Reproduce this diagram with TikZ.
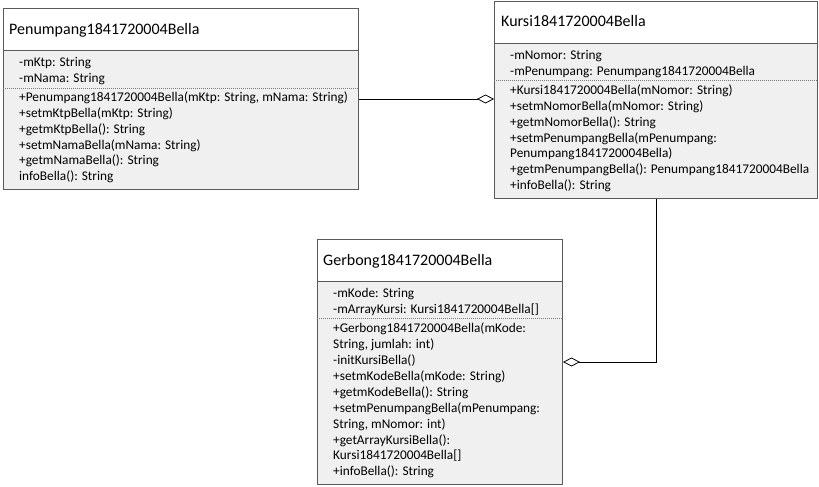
\documentclass[tikz,border=0pt]{standalone}
\usepackage{fontspec}
\setmainfont{Carlito}
\usetikzlibrary{arrows.meta}
\definecolor{boxline}{HTML}{5A5A5A}
\definecolor{boxfill}{HTML}{F0F0F0}
\tikzset{
  classbox/.style={draw=boxline, line width=1pt, fill=boxfill, rectangle, inner sep=0pt, anchor=north west},
  headbox/.style={draw=boxline, line width=1pt, fill=white, rectangle, inner sep=0pt, anchor=north west},
  title/.style={anchor=base west, inner sep=0pt, font=\fontsize{16}{18}\selectfont},
  member/.style={anchor=base west, inner sep=0pt, font=\fontsize{13.3}{15}\selectfont},
  sepline/.style={draw=boxline!80, line width=0.6pt, dash pattern=on 1pt off 1pt},
  agg/.style={draw=black, line width=0.8pt, -{Diamond[open, length=17pt, width=9pt, line width=0.8pt]}}
}
\begin{document}
\begin{tikzpicture}[x=1pt, y=-1pt]
\useasboundingbox (0,0) rectangle (819,487);

% ---- Penumpang1841720004Bella ----
\node[classbox, minimum width=355pt, minimum height=181pt] (pB) at (3,8) {};
\node[headbox, minimum width=355pt, minimum height=42pt] (pH) at (3,8) {};
\node[title] (pT) at (9,34.2) {Penumpang1841720004Bella};
\draw[sepline] (pB.west |- 0,88) -- (pB.east |- 0,88);
\foreach \txt [count=\i from 0] in {{-mKtp: String}, {-mNama: String}}
  \node[member] (pa\i) at (19, 66.7+15.8*\i) {\txt};
\foreach \txt [count=\i from 0] in {
  {+Penumpang1841720004Bella(mKtp: String, mNama: String)},
  {+setmKtpBella(mKtp: String)},
  {+getmKtpBella(): String},
  {+setmNamaBella(mNama: String)},
  {+getmNamaBella(): String},
  {infoBella(): String}}
  \node[member] (pm\i) at (19, 101.7+15.8*\i) {\txt};

% ---- Kursi1841720004Bella ----
\node[classbox, minimum width=323pt, minimum height=197pt] (kB) at (494,1) {};
\node[headbox, minimum width=323pt, minimum height=42pt] (kH) at (494,1) {};
\node[title] (kT) at (501,26.9) {Kursi1841720004Bella};
\draw[sepline] (kB.west |- 0,80.5) -- (kB.east |- 0,80.5);
\foreach \txt [count=\i from 0] in {{-mNomor: String}, {-mPenumpang: Penumpang1841720004Bella}}
  \node[member] (ka\i) at (510, 59.2+16*\i) {\txt};
\foreach \txt [count=\i from 0] in {
  {+Kursi1841720004Bella(mNomor: String)},
  {+setmNomorBella(mNomor: String)},
  {+getmNomorBella(): String},
  {+setmPenumpangBella(mPenumpang:},
  {Penumpang1841720004Bella)},
  {+getmPenumpangBella(): Penumpang1841720004Bella},
  {+infoBella(): String}}
  \node[member] (km\i) at (510, 94.7+15.8*\i) {\txt};

% ---- Gerbong1841720004Bella ----
\node[classbox, minimum width=245pt, minimum height=245pt] (gB) at (317,239) {};
\node[headbox, minimum width=245pt, minimum height=42pt] (gH) at (317,239) {};
\node[title] (gT) at (323,265.6) {Gerbong1841720004Bella};
\draw[sepline] (gB.west |- 0,318) -- (gB.east |- 0,318);
\foreach \txt [count=\i from 0] in {{-mKode: String}, {-mArrayKursi: Kursi1841720004Bella[]}}
  \node[member] (ga\i) at (333, 297.2+16*\i) {\txt};
\foreach \txt [count=\i from 0] in {
  {+Gerbong1841720004Bella(mKode:},
  {String, jumlah: int)},
  {-initKursiBella()},
  {+setmKodeBella(mKode: String)},
  {+getmKodeBella(): String},
  {+setmPenumpangBella(mPenumpang:},
  {String, mNomor: int)},
  {+getArrayKursiBella():},
  {Kursi1841720004Bella[]},
  {+infoBella(): String}}
  \node[member] (gm\i) at (333, 332.7+15.9*\i) {\txt};

% ---- aggregations ----
\draw[agg] (pB.east) -- (kB.west |- pB.east);
\draw[agg] (kB.south) |- (gB.east);
\end{tikzpicture}
\end{document}
